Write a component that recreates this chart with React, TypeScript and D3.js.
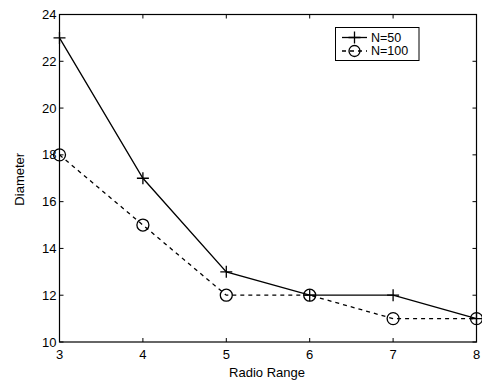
import React, { useEffect, useRef } from 'react';
import * as d3 from 'd3';

const radioRange = [3, 4, 5, 6, 7, 8];
const diameterN50 = [23, 17, 13, 12, 12, 11];
const diameterN100 = [18, 15, 12, 12, 11, 11];
const xTicks = [3, 4, 5, 6, 7, 8];
const yTicks = [10, 12, 14, 16, 18, 20, 22, 24];

const App: React.FC = () => {
  const ref = useRef<SVGSVGElement | null>(null);

  useEffect(() => {
    const svg = d3.select(ref.current);
    svg.selectAll('*').remove();

    const left = 59.5, right = 476.5, top = 14.5, bottom = 342;
    const font = 'Liberation Sans, Arial, sans-serif';

    svg.append('rect').attr('width', 482).attr('height', 380).attr('fill', 'white');

    const x = d3.scaleLinear().domain([3, 8]).range([left, right]);
    const y = d3.scaleLinear().domain([10, 24]).range([bottom, top]);

    // ticks (inside, mirrored top/right)
    const tl = 4;
    xTicks.forEach(t => {
      svg.append('line').attr('x1', x(t)).attr('x2', x(t)).attr('y1', bottom).attr('y2', bottom - tl)
        .attr('stroke', 'black');
      svg.append('line').attr('x1', x(t)).attr('x2', x(t)).attr('y1', top).attr('y2', top + tl)
        .attr('stroke', 'black');
      svg.append('text').attr('x', x(t)).attr('y', bottom + 17)
        .attr('text-anchor', 'middle').style('font-family', font).style('font-size', '13px')
        .text(t);
    });
    yTicks.forEach(t => {
      svg.append('line').attr('x1', left).attr('x2', left + tl).attr('y1', y(t)).attr('y2', y(t))
        .attr('stroke', 'black');
      svg.append('line').attr('x1', right).attr('x2', right - tl).attr('y1', y(t)).attr('y2', y(t))
        .attr('stroke', 'black');
      svg.append('text').attr('x', left - 3).attr('y', y(t)).attr('dy', '0.35em')
        .attr('text-anchor', 'end').style('font-family', font).style('font-size', '13px')
        .text(t);
    });

    svg.append('rect').attr('x', left).attr('y', top).attr('width', right - left).attr('height', bottom - top)
      .attr('fill', 'none').attr('stroke', 'black').attr('stroke-width', 1.2);

    svg.append('text').attr('x', (left + right) / 2 - 1).attr('y', 377)
      .attr('text-anchor', 'middle').style('font-family', font).style('font-size', '13px')
      .text('Radio Range');
    svg.append('text').attr('transform', `translate(24,${(top + bottom) / 2 + 1}) rotate(-90)`)
      .attr('text-anchor', 'middle').style('font-family', font).style('font-size', '13px')
      .text('Diameter');

    const line = d3.line<number>().x((_, i) => x(radioRange[i])).y(d => y(d));

    svg.append('path').datum(diameterN100).attr('d', line).attr('fill', 'none')
      .attr('stroke', 'black').attr('stroke-width', 1.3).attr('stroke-dasharray', '4,4');
    svg.append('path').datum(diameterN50).attr('d', line).attr('fill', 'none')
      .attr('stroke', 'black').attr('stroke-width', 1.3);

    diameterN100.forEach((d, i) => {
      svg.append('circle').attr('cx', x(radioRange[i])).attr('cy', y(d)).attr('r', 6)
        .attr('fill', 'none').attr('stroke', 'black').attr('stroke-width', 1.3);
    });
    const ps = 6;
    diameterN50.forEach((d, i) => {
      const cx = x(radioRange[i]), cy = y(d);
      svg.append('path').attr('d', `M${cx - ps},${cy}H${cx + ps}M${cx},${cy - ps}V${cy + ps}`)
        .attr('stroke', 'black').attr('stroke-width', 1.3);
    });

    // legend
    const lg = svg.append('g');
    lg.append('rect').attr('x', 335.5).attr('y', 27.5).attr('width', 83.5).attr('height', 33)
      .attr('fill', 'white').attr('stroke', 'black').attr('stroke-width', 1);
    const items = [
      { label: 'N=50', dash: null, marker: 'plus', yy: 37.5 },
      { label: 'N=100', dash: '4,4', marker: 'circle', yy: 51 }
    ];
    items.forEach(it => {
      lg.append('line').attr('x1', 342).attr('x2', 367).attr('y1', it.yy).attr('y2', it.yy)
        .attr('stroke', 'black').attr('stroke-width', 1.3).attr('stroke-dasharray', it.dash);
      const cx = 354.5;
      if (it.marker === 'plus') {
        lg.append('path').attr('d', `M${cx - ps},${it.yy}H${cx + ps}M${cx},${it.yy - ps}V${it.yy + ps}`)
          .attr('stroke', 'black').attr('stroke-width', 1.3);
      } else {
        lg.append('circle').attr('cx', cx).attr('cy', it.yy).attr('r', 5.5)
          .attr('fill', 'none').attr('stroke', 'black').attr('stroke-width', 1.3);
      }
      lg.append('text').attr('x', 371).attr('y', it.yy).attr('dy', '0.35em')
        .style('font-family', font).style('font-size', '12.5px').text(it.label);
    });
  }, []);

  return <svg ref={ref} width={482} height={380} style={{ position: 'absolute', left: 0, top: 0 }} />;
};

export default App;
